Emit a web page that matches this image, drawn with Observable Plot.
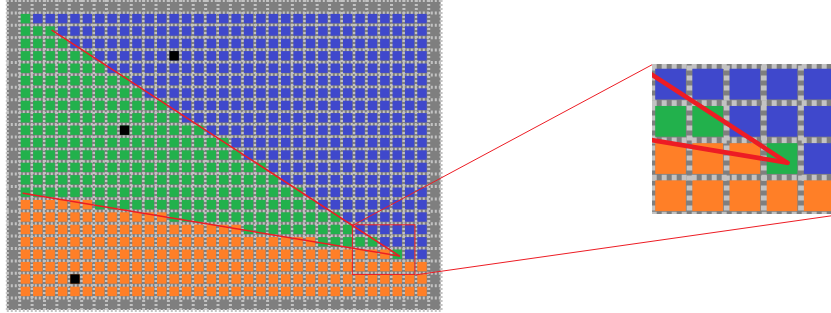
<!DOCTYPE html>
<html><head><meta charset="utf-8">
<script src="https://cdn.jsdelivr.net/npm/d3@7"></script>
<script src="https://cdn.jsdelivr.net/npm/@observablehq/plot@0.6"></script>
<style>
body{margin:0;background:#fff}
#wrap{position:relative;width:831px;height:313px;overflow:hidden}
#wrap svg{display:block}
#wrap svg.insetplot{position:absolute;left:652px;top:64px}
</style>
</head><body><div id="wrap"></div>
<script>
// ---- data ----
const gridCols = 35;               // including grey border columns
const gridRows = 25;               // including grey border rows
const rowsIdx = d3.range(1, 24);   // coloured rows 1..23
const colsIdx = d3.range(1, 34);   // coloured columns 1..33
// last non-blue column for each coloured row (1..23)
const greenEnd  = [1,3,4,6,7,9,10,12,13,15,17,18,20,21,23,24,26,27,29,31,33,33,33];
// last orange column for each coloured row (1..23)
const orangeEnd = [0,0,0,0,0,0,0,0,0,0,0,0,0,0,0,6,12,18,24,30,33,33,33];
const blackCells = [{c:13,r:4},{c:9,r:10},{c:5,r:22}];
const edgeA = [[3.62,2.41],[31.63,20.6]];
const edgeB = [[1.28,15.54],[31.63,20.6]];
const zoomBox = {x1:27.88, x2:32.93, y1:18.13, y2:22.13};
const insetDomainX = [28, 33.06];
const insetDomainY = [17.96, 21.99];

const C = {blue:"#3F48CC", green:"#22B14C", orange:"#FF7F27", grey:"#7F7F7F", light:"#C3C3C3", red:"#ED1C24", black:"#000000"};

const cells = [];
rowsIdx.forEach((r, i) => colsIdx.forEach(c => {
  const color = c <= orangeEnd[i] ? "orange" : c <= greenEnd[i] ? "green" : "blue";
  cells.push({c, r, color});
}));
const bounds = {x: d3.range(0, gridCols + 1), y: d3.range(0, gridRows + 1)};

// layout
const W = 831, H = 313;
const mainX = {domain:[0, gridCols], range:[6.8, 440.6]};
const mainY = {domain:[0, gridRows], range:[0, 310]};
const inset = {left:652, top:64, width:188, height:150};

const sx = Plot.scale({x: mainX});
const sy = Plot.scale({y: mainY});
const connectors = [
  {x1: zoomBox.x1, y1: zoomBox.y1, x2: sx.invert(inset.left), y2: sy.invert(inset.top)},
  {x1: zoomBox.x2, y1: zoomBox.y2, x2: sx.invert(inset.left + inset.width), y2: sy.invert(inset.top + inset.height)}
];

function cellMarks(opts) {
  const marks = [
    Plot.rect([0], {x1: () => 0, x2: () => gridCols, y1: () => 0, y2: () => gridRows, fill: C.grey, clip: opts.clip}),
    Plot.ruleX(bounds.x, {x: d => d, y1: () => 0, y2: () => gridRows, stroke: C.light, strokeWidth: opts.gridW, strokeDasharray: opts.dash, clip: opts.clip}),
    Plot.ruleY(bounds.y, {y: d => d, x1: () => 0, x2: () => gridCols, stroke: C.light, strokeWidth: opts.gridW, strokeDasharray: opts.dash, clip: opts.clip})
  ];
  for (const k of ["blue", "green", "orange"]) {
    marks.push(Plot.rect(cells.filter(d => d.color === k), {
      x1: d => d.c, x2: d => d.c + 1, y1: d => d.r, y2: d => d.r + 1,
      fill: C[k], inset: opts.inset, clip: opts.clip
    }));
  }
  marks.push(Plot.rect(blackCells, {x1: d => d.c, x2: d => d.c + 1, y1: d => d.r, y2: d => d.r + 1, fill: C.black, inset: opts.inset, clip: opts.clip}));
  for (const e of [edgeA, edgeB]) {
    marks.push(Plot.line(e, {x: d => d[0], y: d => d[1], stroke: C.red, strokeWidth: opts.lineW, clip: opts.clip}));
  }
  return marks;
}

const mainPlot = Plot.plot({
  width: W, height: H,
  marginLeft: 0, marginRight: 0, marginTop: 0, marginBottom: 0,
  x: {...mainX, axis: null},
  y: {...mainY, axis: null},
  marks: [
    ...cellMarks({inset: 1.5, gridW: 3, dash: "2,2", lineW: 1.5, clip: false}),
    Plot.rect([zoomBox], {x1: "x1", x2: "x2", y1: "y1", y2: "y2", fill: "none", stroke: C.red, strokeWidth: 1}),
    Plot.link(connectors, {x1: "x1", y1: "y1", x2: "x2", y2: "y2", stroke: C.red, strokeWidth: 1})
  ]
});

const insetPlot = Plot.plot({
  width: inset.width, height: inset.height,
  marginLeft: 0, marginRight: 0, marginTop: 0, marginBottom: 0,
  x: {domain: insetDomainX, range: [0, inset.width], axis: null},
  y: {domain: insetDomainY, range: [0, inset.height], axis: null},
  marks: cellMarks({inset: 3.25, gridW: 6, dash: "5,5", lineW: 4.5, clip: true})
});
insetPlot.classList.add("insetplot");

const wrap = document.getElementById("wrap");
wrap.append(mainPlot, insetPlot);
</script></body></html>
